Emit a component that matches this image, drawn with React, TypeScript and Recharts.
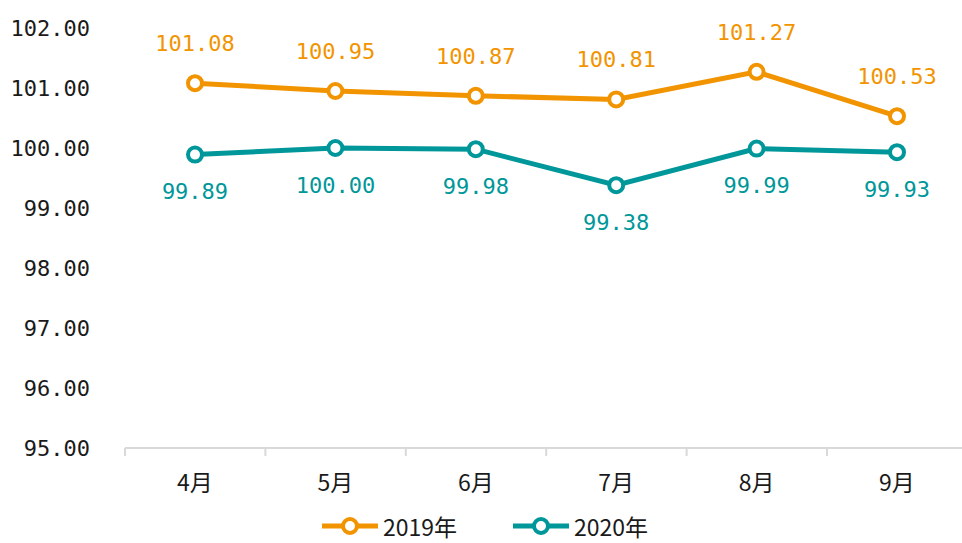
import { LineChart, Line, XAxis, YAxis, Legend, LabelList } from "recharts";

const MONTHS = ["4月", "5月", "6月", "7月", "8月", "9月"];
const SERIES_2019 = [101.08, 100.95, 100.87, 100.81, 101.27, 100.53];
const SERIES_2020 = [99.89, 100.0, 99.98, 99.38, 99.99, 99.93];
const Y_TICKS = [95, 96, 97, 98, 99, 100, 101, 102];

const ORANGE = "#F29400";
const TEAL = "#00979A";
const NUM_FONT = '"DejaVu Sans Mono", monospace';
const CJK_FONT = '"Noto Sans CJK SC", sans-serif';
const HALF_BAND = 70;

const data = MONTHS.map((m, i) => ({ month: m, y2019: SERIES_2019[i], y2020: SERIES_2020[i] }));

type TickProps = { x?: number; y?: number; payload?: { value: string } };

// Excel-style axis: tick marks sit between the categories
function MonthTick({ x = 0, y = 0, payload }: TickProps) {
  return (
    <g>
      <line x1={x - HALF_BAND} x2={x - HALF_BAND} y1={y} y2={y + 8} stroke="#d9d9d9" strokeWidth={2} />
      <text x={x} y={y + 33} textAnchor="middle" dominantBaseline="central" fill="#1a1a1a" fontSize={23} fontFamily={CJK_FONT}>
        {payload?.value}
      </text>
    </g>
  );
}

function LegendContent() {
  const items = [
    { name: "2019年", color: ORANGE },
    { name: "2020年", color: TEAL },
  ];
  return (
    <div style={{ display: "flex", justifyContent: "center", alignItems: "center", gap: 56, height: 34, paddingLeft: 8 }}>
      {items.map((it) => (
        <div key={it.name} style={{ display: "flex", alignItems: "center", gap: 5 }}>
          <svg width={56} height={20}>
            <line x1={0} x2={56} y1={10} y2={10} stroke={it.color} strokeWidth={5} strokeLinecap="round" />
            <circle cx={28} cy={10} r={7} fill="#fff" stroke={it.color} strokeWidth={4} />
          </svg>
          <span style={{ fontFamily: CJK_FONT, fontSize: 23, color: "#1a1a1a", lineHeight: "34px", whiteSpace: "nowrap" }}>{it.name}</span>
        </div>
      ))}
    </div>
  );
}

const fmt = (v: unknown) => Number(v).toFixed(2);

export default function App() {
  return (
    <div style={{ position: "absolute", left: 0, top: 0, width: 962, height: 543, overflow: "hidden", background: "#fff" }}>
      <LineChart width={970} height={543} data={data} margin={{ top: 28, right: 3, bottom: 0, left: 0 }}>
        <YAxis
          type="number"
          domain={[95, 102]}
          ticks={Y_TICKS}
          width={125}
          tickFormatter={fmt}
          axisLine={false}
          tickLine={false}
          tickSize={0}
          tickMargin={35}
          tick={{ fill: "#1a1a1a", fontSize: 22, fontFamily: NUM_FONT }}
          interval={0}
        />
        <XAxis
          dataKey="month"
          height={61}
          padding={{ left: HALF_BAND, right: HALF_BAND }}
          axisLine={{ stroke: "#d9d9d9", strokeWidth: 2 }}
          tickLine={false}
          tickSize={0}
          tickMargin={0}
          interval={0}
          tick={<MonthTick />}
        />
        <Legend verticalAlign="bottom" height={34} content={<LegendContent />} wrapperStyle={{ left: 0, width: 962, bottom: 0 }} />
        <Line
          dataKey="y2019"
          name="2019年"
          stroke={ORANGE}
          strokeWidth={5}
          dot={{ r: 7, fill: "#fff", stroke: ORANGE, strokeWidth: 4 }}
          activeDot={false}
          isAnimationActive={false}
        >
          <LabelList dataKey="y2019" position="top" offset={32} formatter={fmt} fill={ORANGE} fontSize={22} fontFamily={NUM_FONT} />
        </Line>
        <Line
          dataKey="y2020"
          name="2020年"
          stroke={TEAL}
          strokeWidth={5}
          dot={{ r: 7, fill: "#fff", stroke: TEAL, strokeWidth: 4 }}
          activeDot={false}
          isAnimationActive={false}
        >
          <LabelList dataKey="y2020" position="bottom" offset={29} formatter={fmt} fill={TEAL} fontSize={22} fontFamily={NUM_FONT} />
        </Line>
      </LineChart>
    </div>
  );
}
